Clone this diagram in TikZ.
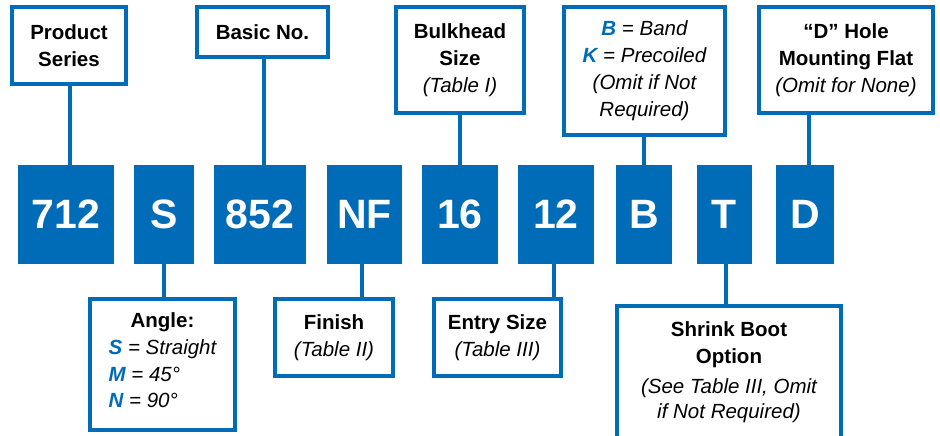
\documentclass[tikz,border=0pt]{standalone}
\usepackage{fontspec}
\setmainfont{Liberation Sans}
\definecolor{blu}{RGB}{0,107,182}
\begin{document}
\begin{tikzpicture}[x=1pt,y=-1pt,
  lbl/.style={draw=blu, line width=4pt, fill=white, align=center, inner sep=0pt,
    font=\fontsize{20.5}{27}\selectfont},
  open/.style={align=center, inner sep=0pt, font=\fontsize{20.5}{27}\selectfont},
  code/.style={fill=blu, text=white, inner sep=0pt, minimum height=99pt,
    font=\fontsize{41}{41}\selectfont\bfseries},
  link/.style={draw=blu, line width=4pt}]
\useasboundingbox (0,0) rectangle (940,436);
\newcommand{\hk}[1]{\textcolor{blu}{\bfseries\itshape #1}}

% top label boxes
\node[lbl, minimum width=114pt, minimum height=77pt] (ps) at (69,45.5)
  {{\bfseries Product}\\{\bfseries Series}};
\node[lbl, minimum width=131pt, minimum height=50pt] (bn) at (262.5,32)
  {{\bfseries Basic No.}};
\node[lbl, minimum width=128pt, minimum height=106pt] (bh) at (460,60)
  {{\bfseries Bulkhead}\\{\bfseries Size}\\{\itshape (Table I)}};
\node[lbl, minimum width=161pt, minimum height=128pt] (bk) at (644.5,71)
  {\hk{B} {\itshape = Band}\\\hk{K} {\itshape = Precoiled}\\{\itshape (Omit if Not}\\{\itshape Required)}};
\node[lbl, minimum width=174pt, minimum height=106pt] (dh) at (846,60)
  {{\bfseries “D” Hole}\\{\bfseries Mounting Flat}\\{\itshape (Omit for None)}};

% code boxes
\node[code, minimum width=96pt] (c712) at (66,214.5) {712};
\node[code, minimum width=60pt] (cS) at (164,214.5) {S};
\node[code, minimum width=92pt] (c852) at (260,214.5) {852};
\node[code, minimum width=75pt] (cNF) at (364.5,214.5) {NF};
\node[code, minimum width=76pt] (c16) at (460,214.5) {16};
\node[code, minimum width=76pt] (c12) at (556,214.5) {12};
\node[code, minimum width=56pt] (cB) at (644,214.5) {B};
\node[code, minimum width=55pt] (cT) at (724.5,214.5) {T};
\node[code, minimum width=58pt] (cD) at (805,214.5) {D};

% bottom label boxes
\node[lbl, minimum width=145pt, minimum height=131pt] (ang) at (162.5,364.5)
  {{\bfseries Angle:}\\\begin{tabular}[t]{@{}l@{}}\hk{S} {\itshape = Straight}\\\hk{M} {\itshape = 45°}\\[-1pt]\hk{N} {\itshape = 90°}\end{tabular}};
\node[lbl, minimum width=118pt, minimum height=77pt] (fin) at (334,337.5)
  {{\bfseries Finish}\\{\itshape (Table II)}};
\node[lbl, minimum width=127pt, minimum height=77pt] (ent) at (497.5,337.5)
  {{\bfseries Entry Size}\\{\itshape (Table III)}};
\node[open, minimum width=224pt, minimum height=131pt] (sb) at (729,372)
  {{\bfseries Shrink Boot}\\{\bfseries Option}\\[3pt]{\itshape (See Table III, Omit}\\[-2pt]{\itshape if Not Required)}};
\draw[link] (sb.south west) -- (sb.north west) -- (sb.north east) -- (sb.south east);

% connectors
\draw[link] ([xshift=4pt]c712.north) -- ([xshift=4pt]c712.north |- ps.south);
\draw[link] ([xshift=4pt]c852.north) -- ([xshift=4pt]c852.north |- bn.south);
\draw[link] (c16.north) -- (c16.north |- bh.south);
\draw[link] (cB.north) -- (cB.north |- bk.south);
\draw[link] ([xshift=4pt]cD.north) -- ([xshift=4pt]cD.north |- dh.south);
\draw[link] (cS.south) -- (cS.south |- ang.north);
\draw[link] ([xshift=-2.5pt]cNF.south) -- ([xshift=-2.5pt]cNF.south |- fin.north);
\draw[link] ([xshift=-2pt]c12.south) -- ([xshift=-2pt]c12.south |- ent.north);
\draw[link] ([xshift=1.5pt]cT.south) -- ([xshift=1.5pt]cT.south |- sb.north);
\end{tikzpicture}
\end{document}
